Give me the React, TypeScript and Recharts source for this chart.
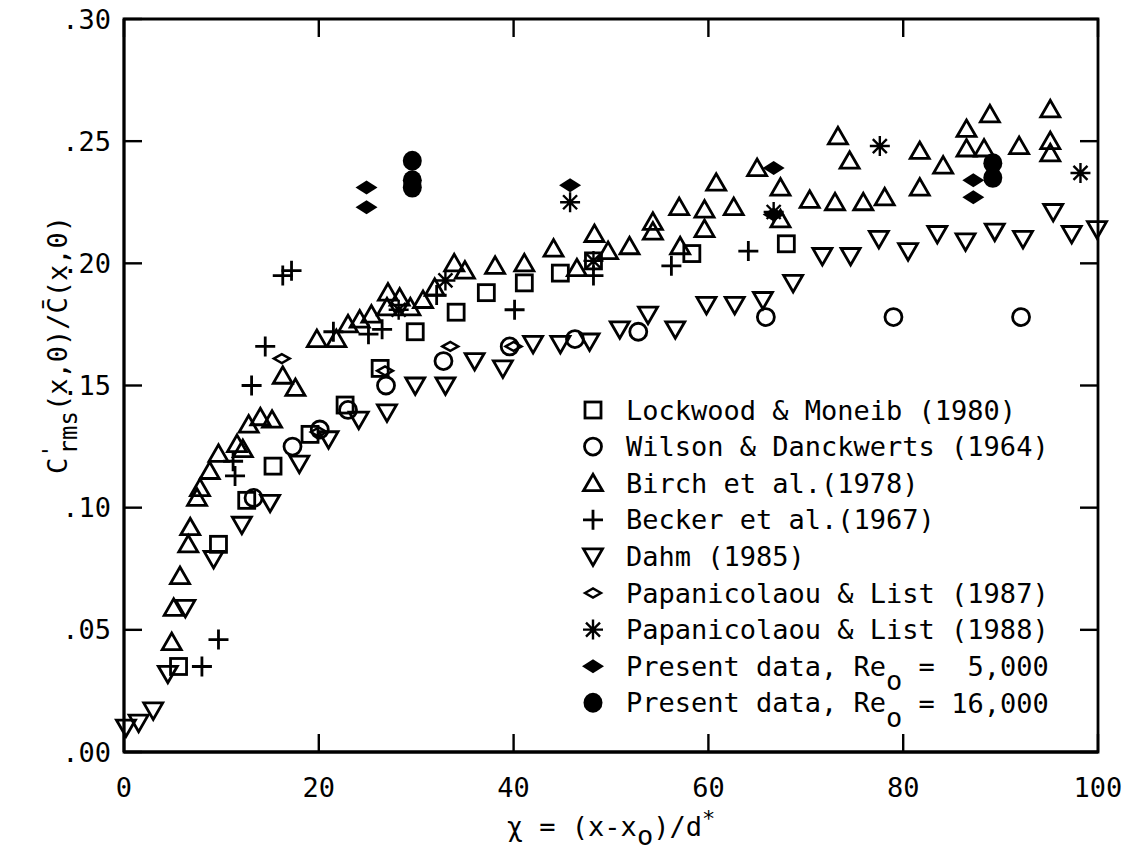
import React from 'react';
import { ScatterChart, Scatter, XAxis, YAxis, ReferenceArea, Legend } from 'recharts';

const FONT = '"DejaVu Sans Mono", monospace';

// x = (x - x0)/d*, y = c'rms / cbar
const lockwood: [number, number][] = [
  [5.6, 0.035], [9.7, 0.085], [12.6, 0.103], [15.3, 0.117], [19.1, 0.130], [22.7, 0.142],
  [26.3, 0.157], [29.9, 0.172], [34.1, 0.180], [37.2, 0.188], [41.1, 0.192], [44.8, 0.196],
  [48.2, 0.201], [58.3, 0.204], [68.0, 0.208],
];

const wilson: [number, number][] = [
  [13.3, 0.104], [17.3, 0.125], [20.1, 0.132], [23.0, 0.140], [26.9, 0.150], [32.8, 0.160],
  [39.6, 0.166], [46.3, 0.169], [52.8, 0.172], [65.9, 0.178], [79.0, 0.178], [92.1, 0.178],
];

const birch: [number, number][] = [
  [4.9, 0.045], [5.1, 0.059], [5.75, 0.072], [6.6, 0.085], [6.8, 0.092], [7.5, 0.104],
  [7.8, 0.108], [8.8, 0.115], [9.7, 0.122], [11.6, 0.126], [12.2, 0.124], [12.8, 0.134],
  [14.0, 0.137], [15.2, 0.136], [16.3, 0.154], [17.6, 0.149], [19.8, 0.169], [21.8, 0.169],
  [23.0, 0.175], [24.2, 0.177], [25.4, 0.179], [27.0, 0.182], [27.1, 0.188], [28.3, 0.186],
  [29.4, 0.182], [30.7, 0.185], [31.9, 0.190], [33.9, 0.200], [35.0, 0.197], [38.1, 0.199],
  [41.1, 0.200], [44.1, 0.206], [46.5, 0.198], [48.3, 0.212], [49.7, 0.205], [51.9, 0.207],
  [54.3, 0.217], [54.3, 0.213], [57.0, 0.223], [57.1, 0.207], [59.6, 0.222], [59.6, 0.214],
  [60.8, 0.233], [62.6, 0.223], [65.0, 0.239], [67.4, 0.231], [67.4, 0.218], [70.4, 0.226],
  [73.0, 0.225], [73.3, 0.252], [74.5, 0.242], [75.9, 0.225], [78.1, 0.227], [81.7, 0.246],
  [81.7, 0.231], [84.1, 0.240], [86.5, 0.255], [86.5, 0.247], [88.3, 0.247], [88.9, 0.261],
  [91.9, 0.248], [95.1, 0.263], [95.1, 0.250], [95.1, 0.245],
];

const becker: [number, number][] = [
  [8.0, 0.035], [9.7, 0.046], [11.2, 0.119], [11.4, 0.113], [13.1, 0.150], [14.5, 0.166],
  [16.3, 0.195], [17.2, 0.197], [21.5, 0.172], [25.1, 0.171], [26.5, 0.173], [32.1, 0.187],
  [40.1, 0.181], [48.2, 0.195], [56.2, 0.199], [64.1, 0.205],
];

const dahm: [number, number][] = [
  [0.2, 0.010], [1.5, 0.012], [3.0, 0.017], [4.5, 0.032], [6.3, 0.059], [9.2, 0.079],
  [12.1, 0.093], [15.0, 0.102], [18.0, 0.118], [21.0, 0.128], [24.1, 0.136], [27.0, 0.139],
  [29.9, 0.150], [33.0, 0.150], [36.0, 0.160], [38.9, 0.157], [42.0, 0.167], [44.8, 0.167],
  [47.8, 0.168], [50.9, 0.173], [53.8, 0.179], [56.6, 0.173], [59.8, 0.183], [62.7, 0.183],
  [65.6, 0.185], [68.7, 0.192], [71.7, 0.203], [74.6, 0.203], [77.5, 0.210], [80.5, 0.205],
  [83.5, 0.212], [86.4, 0.209], [89.4, 0.213], [92.3, 0.210], [95.4, 0.221], [97.3, 0.212],
  [99.9, 0.214],
];

const pap87: [number, number][] = [
  [16.2, 0.161], [20.0, 0.131], [26.8, 0.156], [33.5, 0.166], [40.0, 0.166],
];

const pap88: [number, number][] = [
  [28.2, 0.181], [33.0, 0.193], [45.8, 0.225], [48.2, 0.201], [66.7, 0.221], [77.6, 0.248],
  [98.2, 0.237],
];

const present5k: [number, number][] = [
  [24.9, 0.231], [24.9, 0.223], [45.8, 0.232], [66.7, 0.239], [66.7, 0.220], [87.2, 0.234],
  [87.2, 0.227],
];

const present16k: [number, number][] = [
  [29.6, 0.242], [29.6, 0.234], [29.6, 0.231], [89.2, 0.241], [89.2, 0.235],
];

const xTicks = [0, 20, 40, 60, 80, 100];
const yTicks = [0, 0.05, 0.1, 0.15, 0.2, 0.25, 0.3];

type Kind =
  | 'square' | 'circle' | 'triangle' | 'plus' | 'triangleDown'
  | 'diamond' | 'asterisk' | 'diamondFilled' | 'circleFilled';

const series: { name: string; label: string[]; data: [number, number][]; kind: Kind }[] = [
  { name: 'Lockwood & Moneib (1980)', label: ['Lockwood & Moneib (1980)'], data: lockwood, kind: 'square' },
  { name: 'Wilson & Danckwerts (1964)', label: ['Wilson & Danckwerts (1964)'], data: wilson, kind: 'circle' },
  { name: 'Birch et al.(1978)', label: ['Birch et al.(1978)'], data: birch, kind: 'triangle' },
  { name: 'Becker et al.(1967)', label: ['Becker et al.(1967)'], data: becker, kind: 'plus' },
  { name: 'Dahm (1985)', label: ['Dahm (1985)'], data: dahm, kind: 'triangleDown' },
  { name: 'Papanicolaou & List (1987)', label: ['Papanicolaou & List (1987)'], data: pap87, kind: 'diamond' },
  { name: 'Papanicolaou & List (1988)', label: ['Papanicolaou & List (1988)'], data: pap88, kind: 'asterisk' },
  { name: 'Present data, Re0 = 5,000', label: ['Present data, Re', 'o', ' =  5,000'], data: present5k, kind: 'diamondFilled' },
  { name: 'Present data, Re0 = 16,000', label: ['Present data, Re', 'o', ' = 16,000'], data: present16k, kind: 'circleFilled' },
];

// plot frame in page pixels
const LEFT = 124;
const RIGHT = 1098;
const TOP = 19;
const BOTTOM = 752;
const TICK = 18;
const SW = 2.8;

function marker(kind: Kind, cx: number, cy: number, key?: string | number) {
  const s = { stroke: '#000', strokeWidth: SW, fill: 'none' };
  switch (kind) {
    case 'square':
      return <rect key={key} x={cx - 8} y={cy - 8} width={16} height={16} {...s} />;
    case 'circle':
      return <circle key={key} cx={cx} cy={cy} r={8.5} {...s} />;
    case 'triangle':
      return <polygon key={key} points={`${cx - 9.5},${cy + 7.5} ${cx + 9.5},${cy + 7.5} ${cx},${cy - 9}`} {...s} />;
    case 'triangleDown':
      return <polygon key={key} points={`${cx - 9.5},${cy - 7.5} ${cx + 9.5},${cy - 7.5} ${cx},${cy + 9}`} {...s} />;
    case 'plus':
      return <path key={key} d={`M${cx - 10},${cy}H${cx + 10}M${cx},${cy - 10}V${cy + 10}`} {...s} />;
    case 'diamond':
      return <polygon key={key} points={`${cx - 8},${cy} ${cx},${cy - 4.5} ${cx + 8},${cy} ${cx},${cy + 4.5}`} {...s} strokeWidth={2.4} />;
    case 'asterisk':
      return (
        <path
          key={key}
          d={`M${cx},${cy - 10}V${cy + 10}M${cx - 10},${cy}H${cx + 10}M${cx - 7},${cy - 7}L${cx + 7},${cy + 7}M${cx - 7},${cy + 7}L${cx + 7},${cy - 7}`}
          stroke="#000"
          strokeWidth={2.4}
          fill="none"
        />
      );
    case 'diamondFilled':
      return <polygon key={key} points={`${cx - 11},${cy} ${cx},${cy - 7} ${cx + 11},${cy} ${cx},${cy + 7}`} fill="#000" />;
    case 'circleFilled':
      return <ellipse key={key} cx={cx} cy={cy} rx={9.5} ry={10} fill="#000" />;
  }
}

const shapeFor = (kind: Kind) => (props: any) => {
  const { cx, cy } = props;
  if (cx == null || cy == null) return <g />;
  return marker(kind, cx, cy);
};

const XTick = (props: any) => {
  const { x, payload } = props;
  return (
    <g>
      <line x1={x} x2={x} y1={BOTTOM} y2={BOTTOM - TICK} stroke="#000" strokeWidth={2.4} />
      <line x1={x} x2={x} y1={TOP} y2={TOP + TICK} stroke="#000" strokeWidth={2.4} />
      <text x={x} y={787} textAnchor="middle" dominantBaseline="central" fontFamily={FONT} fontSize={27} fill="#000">
        {payload.value}
      </text>
    </g>
  );
};

const YTick = (props: any) => {
  const { y, payload } = props;
  const label = payload.value.toFixed(2).replace(/^0/, '');
  return (
    <g>
      <line x1={LEFT} x2={LEFT + TICK} y1={y} y2={y} stroke="#000" strokeWidth={2.4} />
      <line x1={RIGHT - TICK} x2={RIGHT} y1={y} y2={y} stroke="#000" strokeWidth={2.4} />
      <text x={111} y={y} textAnchor="end" dominantBaseline="central" fontFamily={FONT} fontSize={27} fill="#000">
        {label}
      </text>
    </g>
  );
};

const XLabel = () => (
  <text x={611} y={836} textAnchor="middle" fontFamily={FONT} fontSize={27} fill="#000" style={{ whiteSpace: 'pre' }}>
    χ = (x-x<tspan dy={9}>o</tspan>
    <tspan dy={-9}>)/d</tspan>
    <tspan dy={-10} fontSize={22}>*</tspan>
  </text>
);

const YLabel = () => (
  <text
    x={0}
    y={0}
    transform={`translate(67, 345) rotate(-90)`}
    textAnchor="middle"
    fontFamily={FONT}
    fontSize={27}
    fill="#000"
  >
    C<tspan dy={-9} fontSize={22}>'</tspan>
    <tspan dx={-10} dy={19} fontSize={24}>rms</tspan>
    <tspan dy={-10}>(x,0)/C&#x0304;(x,0)</tspan>
  </text>
);

const LegendBlock = () => (
  <svg width={540} height={370}>
    {series.map((s, i) => {
      const cy = 22 + i * 36.6;
      return (
        <g key={s.name}>
          {marker(s.kind, 18, cy)}
          <text x={51} y={cy} dominantBaseline="central" fontFamily={FONT} fontSize={27} fill="#000" style={{ whiteSpace: 'pre' }}>
            {s.label[0]}
            {s.label.length > 1 && <tspan dy={14}>{s.label[1]}</tspan>}
            {s.label.length > 1 && <tspan dy={-14}>{s.label[2]}</tspan>}
          </text>
        </g>
      );
    })}
  </svg>
);

export default function App() {
  return (
    <div style={{ position: 'absolute', left: 0, top: 0, width: 1126, height: 860, background: '#fff' }}>
      <ScatterChart width={1126} height={860} margin={{ top: TOP, right: 1126 - RIGHT, bottom: 0, left: 0 }}>
        <XAxis
          type="number"
          dataKey="x"
          domain={[0, 100]}
          ticks={xTicks}
          height={860 - BOTTOM}
          tick={<XTick />}
          tickLine={false}
          axisLine={{ stroke: '#000', strokeWidth: SW }}
          label={<XLabel />}
        />
        <YAxis
          type="number"
          dataKey="y"
          domain={[0, 0.3]}
          ticks={yTicks}
          width={LEFT}
          tick={<YTick />}
          tickLine={false}
          axisLine={{ stroke: '#000', strokeWidth: SW }}
          label={<YLabel />}
        />
        <ReferenceArea x1={0} x2={100} y1={0} y2={0.3} fill="none" stroke="#000" strokeWidth={SW} />
        {series.map((s) => (
          <Scatter
            key={s.name}
            name={s.name}
            data={s.data.map(([x, y]) => ({ x, y }))}
            shape={shapeFor(s.kind)}
            isAnimationActive={false}
          />
        ))}
        <Legend
          layout="vertical"
          align="center"
          verticalAlign="middle"
          content={<LegendBlock />}
          wrapperStyle={{ left: 575, top: 388, width: 540, height: 370 }}
        />
      </ScatterChart>
    </div>
  );
}
